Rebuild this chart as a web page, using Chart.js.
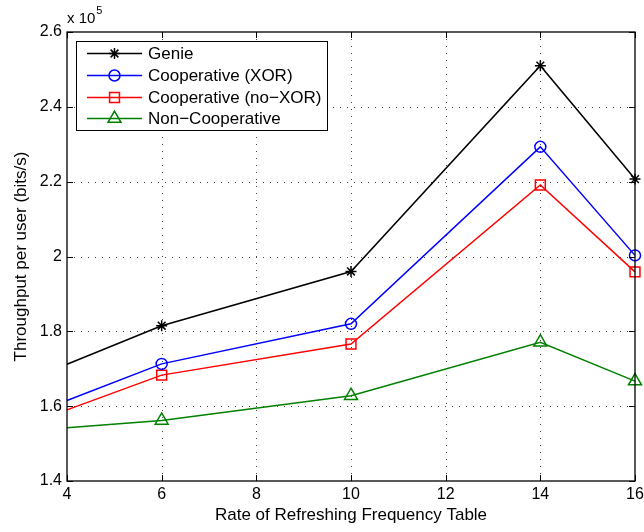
<!DOCTYPE html>
<html>
<head>
<meta charset="utf-8">
<script src="https://cdn.jsdelivr.net/npm/chart.js@4/dist/chart.umd.min.js"></script>
<style>
  html, body { margin: 0; padding: 0; background: #fff; }
  canvas { display: block; }
</style>
</head>
<body>
<canvas id="c" width="644" height="532"></canvas>
<script>
// Refresh rate of the frequency table (x axis)
const refreshRates = [4, 6, 10, 14, 16];

// Throughput per user, bits/s
const genie      = [171200, 181500, 196000, 251000, 220700];
const coopXor    = [161500, 171300, 182000, 229300, 200300];
const coopNoXor  = [159000, 168300, 176600, 219100, 195900];
const nonCoop    = [154200, 156200, 162800, 177100, 166700];

const seriesNames = ['Genie', 'Cooperative (XOR)', 'Cooperative (no\u2212XOR)', 'Non\u2212Cooperative'];
const xTickValues = [4, 6, 8, 10, 12, 14, 16];
const yTickValues = [140000, 160000, 180000, 200000, 220000, 240000, 260000];

const FONT = '"Liberation Sans", Arial, Helvetica, sans-serif';

function series(name, vals, color, style, r) {
  return {
    label: name,
    data: refreshRates.map((x, i) => ({ x: x, y: vals[i] })),
    borderColor: color,
    backgroundColor: color,
    borderWidth: 1.5,
    pointStyle: style,
    // the first sample sits on the left axis edge where the line enters, no marker there
    pointRadius: refreshRates.map((x, i) => (i === 0 ? 0 : r)),
    pointHoverRadius: r,
    pointBorderWidth: 1.5,
    pointBorderColor: color,
    pointBackgroundColor: 'rgba(0,0,0,0)',
    tension: 0,
    clip: false
  };
}

const datasets = [
  series(seriesNames[0], genie, '#000000', 'star', 5.5),
  series(seriesNames[1], coopXor, '#0000ff', 'circle', 5.5),
  series(seriesNames[2], coopNoXor, '#ff0000', 'rect', 7),
  series(seriesNames[3], nonCoop, '#008000', 'triangle', 7.5)
];

function markerSize(ds) {
  return Array.isArray(ds.pointRadius) ? ds.pointRadius[ds.pointRadius.length - 1] : ds.pointRadius;
}

function drawMarker(ctx, style, r, x, y) {
  if (Chart.helpers && Chart.helpers.drawPoint) {
    Chart.helpers.drawPoint(ctx, { pointStyle: style, radius: r, borderWidth: 1.5, rotation: 0 }, x, y);
    return;
  }
  ctx.beginPath();
  if (style === 'circle') {
    ctx.arc(x, y, r, 0, Math.PI * 2);
  } else if (style === 'rect') {
    const s = r * Math.SQRT1_2;
    ctx.rect(x - s, y - s, 2 * s, 2 * s);
  } else if (style === 'triangle') {
    for (let k = 0; k < 3; k++) {
      const a = -Math.PI / 2 + k * 2 * Math.PI / 3;
      const px = x + Math.cos(a) * r, py = y + Math.sin(a) * r;
      if (k === 0) ctx.moveTo(px, py); else ctx.lineTo(px, py);
    }
    ctx.closePath();
  } else {
    for (let k = 0; k < 4; k++) {
      const a = k * Math.PI / 4;
      ctx.moveTo(x - Math.cos(a) * r, y - Math.sin(a) * r);
      ctx.lineTo(x + Math.cos(a) * r, y + Math.sin(a) * r);
    }
  }
  ctx.stroke();
}

const axesFrame = {
  id: 'axesFrame',
  beforeDatasetsDraw(chart) {
    const { ctx, chartArea: a, scales: { x, y } } = chart;
    ctx.save();
    ctx.strokeStyle = '#444';
    ctx.lineWidth = 1;
    ctx.setLineDash([1, 6]);
    x.ticks.forEach(t => {
      const px = Math.round(x.getPixelForValue(t.value)) + 0.5;
      if (px > a.left + 2 && px < a.right - 2) {
        ctx.beginPath(); ctx.moveTo(px, a.bottom); ctx.lineTo(px, a.top); ctx.stroke();
      }
    });
    y.ticks.forEach(t => {
      const py = Math.round(y.getPixelForValue(t.value)) + 0.5;
      if (py > a.top + 2 && py < a.bottom - 2) {
        ctx.beginPath(); ctx.moveTo(a.left, py); ctx.lineTo(a.right, py); ctx.stroke();
      }
    });
    ctx.restore();
  },
  afterDatasetsDraw(chart) {
    const { ctx, chartArea: a, scales: { x, y } } = chart;
    ctx.save();
    ctx.setLineDash([]);
    ctx.strokeStyle = '#000';
    ctx.lineWidth = 1.3;
    ctx.strokeRect(a.left, a.top, a.right - a.left, a.bottom - a.top);

    // inward tick marks on all four sides
    const tl = 6;
    ctx.lineWidth = 1;
    x.ticks.forEach(t => {
      const px = Math.round(x.getPixelForValue(t.value)) + 0.5;
      ctx.beginPath();
      ctx.moveTo(px, a.bottom); ctx.lineTo(px, a.bottom - tl);
      ctx.moveTo(px, a.top); ctx.lineTo(px, a.top + tl);
      ctx.stroke();
    });
    y.ticks.forEach(t => {
      const py = Math.round(y.getPixelForValue(t.value)) + 0.5;
      ctx.beginPath();
      ctx.moveTo(a.left, py); ctx.lineTo(a.left + tl, py);
      ctx.moveTo(a.right, py); ctx.lineTo(a.right - tl, py);
      ctx.stroke();
    });

    // exponent label above the y axis
    ctx.fillStyle = '#000';
    ctx.textBaseline = 'alphabetic';
    ctx.textAlign = 'left';
    ctx.font = '15px ' + FONT;
    ctx.fillText('x 10', a.left, 23);
    const w = ctx.measureText('x 10').width;
    ctx.font = '11px ' + FONT;
    ctx.fillText('5', a.left + w + 1, 14);

    // legend box
    const lx = 76, ly = 41, lw = 251, lh = 89;
    ctx.fillStyle = '#fff';
    ctx.fillRect(lx, ly, lw, lh);
    ctx.strokeStyle = '#000';
    ctx.lineWidth = 1;
    ctx.strokeRect(lx + 0.5, ly + 0.5, lw, lh);
    const rowY = [53, 75, 97, 118];
    chart.data.datasets.forEach((ds, i) => {
      const yy = rowY[i] + 0.5;
      ctx.strokeStyle = ds.borderColor;
      ctx.fillStyle = 'rgba(0,0,0,0)';
      ctx.lineWidth = 1.5;
      ctx.beginPath(); ctx.moveTo(87, yy); ctx.lineTo(142, yy); ctx.stroke();
      drawMarker(ctx, ds.pointStyle, markerSize(ds), 114.5, yy);
      ctx.fillStyle = '#000';
      ctx.font = '17px ' + FONT;
      ctx.textBaseline = 'middle';
      ctx.textAlign = 'left';
      ctx.fillText(ds.label, 148, yy + 1);
    });
    ctx.restore();
  }
};

new Chart(document.getElementById('c'), {
  type: 'line',
  data: { datasets: datasets },
  options: {
    responsive: false,
    animation: false,
    events: [],
    layout: { padding: { top: 32, right: 9, left: 0, bottom: 0 } },
    plugins: { legend: { display: false }, tooltip: { enabled: false } },
    scales: {
      x: {
        type: 'linear',
        min: 4, max: 16,
        afterBuildTicks: s => { s.ticks = xTickValues.map(v => ({ value: v })); },
        afterFit: s => { s.height = 51; s.paddingLeft = 0; s.paddingRight = 0; },
        grid: { display: false, drawTicks: false },
        border: { display: false },
        ticks: { padding: 4, color: '#000', font: { family: FONT, size: 16 }, maxRotation: 0, autoSkip: false },
        title: { display: true, text: 'Rate of Refreshing Frequency Table', color: '#000',
                 font: { family: FONT, size: 17, lineHeight: 1.2 }, padding: { top: 0, bottom: 6 } }
      },
      y: {
        type: 'linear',
        min: 140000, max: 260000,
        afterBuildTicks: s => { s.ticks = yTickValues.map(v => ({ value: v })); },
        afterFit: s => { s.width = 67; },
        grid: { display: false, drawTicks: false },
        border: { display: false },
        ticks: { padding: 5, color: '#000', font: { family: FONT, size: 16 },
                 callback: v => String(Math.round(v / 1e4) / 10) },
        title: { display: true, text: 'Throughput per user (bits/s)', color: '#000',
                 font: { family: FONT, size: 17, lineHeight: 1.2 }, padding: { top: 11, bottom: 0 } }
      }
    }
  },
  plugins: [axesFrame]
});
</script>
</body>
</html>
